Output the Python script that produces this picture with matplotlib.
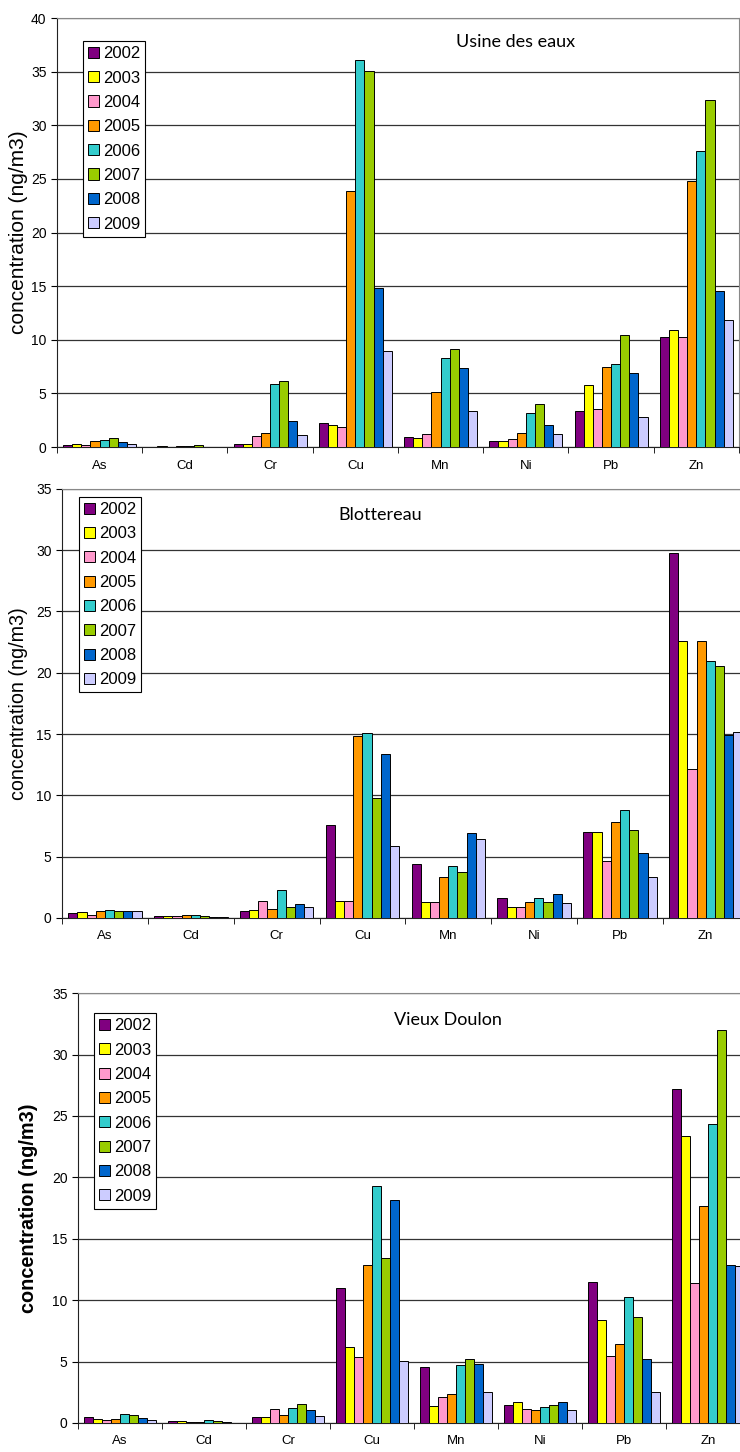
"""Concentrations of metals at three sites, 2002-2009."""
import matplotlib
matplotlib.use("Agg")
import matplotlib.pyplot as plt
import numpy as np

metals = ["As", "Cd", "Cr", "Cu", "Mn", "Ni", "Pb", "Zn"]
years = ["2002", "2003", "2004", "2005", "2006", "2007", "2008", "2009"]
colors = ["#800080", "#FFFF00", "#FF99CC", "#FF9900",
          "#33CCCC", "#99CC00", "#0066CC", "#CCCCFF"]

# one row per year, one column per metal
usine = [
    [0.20, 0.05, 0.25, 2.27, 0.97, 0.56, 3.36, 10.28],
    [0.30, 0.07, 0.25, 2.10, 0.87, 0.56, 5.83, 10.90],
    [0.15, 0.05, 1.00, 1.87, 1.18, 0.78, 3.58, 10.28],
    [0.55, 0.12, 1.35, 23.9, 5.14, 1.34, 7.48, 24.77],
    [0.70, 0.10, 5.85, 36.1, 8.35, 3.20, 7.79, 27.60],
    [0.85, 0.15, 6.20, 35.1, 9.13, 4.00, 10.44, 32.40],
    [0.50, 0.03, 2.40, 14.8, 7.38, 2.09, 6.95, 14.55],
    [0.30, 0.02, 1.10, 8.97, 3.33, 1.25, 2.83, 11.84],
]
blottereau = [
    [0.40, 0.20, 0.54, 7.59, 4.40, 1.60, 6.99, 29.78],
    [0.46, 0.14, 0.63, 1.41, 1.28, 0.90, 6.99, 22.57],
    [0.27, 0.14, 1.36, 1.41, 1.28, 0.90, 4.62, 12.16],
    [0.60, 0.24, 0.76, 14.85, 3.35, 1.33, 7.83, 22.63],
    [0.65, 0.24, 2.28, 15.07, 4.22, 1.63, 8.81, 20.97],
    [0.54, 0.19, 0.90, 9.76, 3.75, 1.33, 7.18, 20.56],
    [0.57, 0.05, 1.17, 13.35, 6.91, 1.93, 5.28, 14.93],
    [0.60, 0.05, 0.87, 5.87, 6.42, 1.22, 3.35, 15.18],
]
doulon = [
    [0.52, 0.16, 0.52, 10.98, 4.57, 1.49, 11.49, 27.20],
    [0.35, 0.16, 0.49, 6.17, 1.39, 1.68, 8.40, 23.40],
    [0.24, 0.08, 1.14, 5.38, 2.09, 1.14, 5.49, 11.36],
    [0.35, 0.10, 0.65, 12.90, 2.39, 1.03, 6.44, 17.69],
    [0.71, 0.27, 1.22, 19.29, 4.70, 1.30, 10.27, 24.38],
    [0.65, 0.14, 1.55, 13.40, 5.19, 1.49, 8.59, 32.01],
    [0.41, 0.05, 1.09, 18.13, 4.78, 1.71, 5.24, 12.90],
    [0.24, 0.03, 0.60, 5.08, 2.55, 1.06, 2.55, 12.80],
]

TITLE_FONT = ["Lato", "DejaVu Sans"]
ARIAL = ["Liberation Sans", "DejaVu Sans"]

fig = plt.figure(figsize=(7.4, 14.52), dpi=100)

panels = [
    # data, title, ymax, axes rect, legend anchor, title pos, ylabel x, ylabel size, bold
    (usine, "Usine des eaux", 40, [0.077, 0.6921, 0.9216, 0.2955],
     (0.038, 0.946), (0.673, 0.944), -0.0425, 15, False),
    (blottereau, "Blottereau", 35, [0.0838, 0.3678, 0.928, 0.2955],
     (0.025, 0.981), (0.464, 0.939), -0.0495, 14.2, False),
    (doulon, "Vieux Doulon", 35, [0.1054, 0.020, 0.908, 0.296],
     (0.024, 0.953), (0.551, 0.937), -0.0595, 14.3, True),
]

x = np.arange(len(metals))
bw = 0.107

for data, title, ymax, rect, leg_anchor, title_pos, ylab_x, ylab_size, bold in panels:
    ax = fig.add_axes(rect)
    for i, (yr, col) in enumerate(zip(years, colors)):
        offs = (i - 3.5) * bw
        ax.bar(x + offs, data[i], width=bw, color=col, edgecolor="black",
               linewidth=0.7, label=yr, zorder=3)

    ax.set_xlim(-0.5, len(metals) - 0.5)
    ax.set_ylim(0, ymax)
    ax.set_yticks(np.arange(0, ymax + 1, 5))
    ax.grid(axis="y", color="#333333", linewidth=0.9, zorder=0)

    ax.set_xticks(x)
    ax.set_xticklabels(metals, family=ARIAL, fontsize=9.5)
    ax.tick_params(axis="x", which="major", length=0, pad=9)
    ax.set_xticks(np.arange(-0.5, len(metals)), minor=True)
    ax.tick_params(axis="x", which="minor", length=4, direction="out")
    ax.tick_params(axis="y", length=4, labelsize=10)
    for lab in ax.get_yticklabels():
        lab.set_family(ARIAL)

    for side in ("top", "right"):
        ax.spines[side].set_color("#888888")
    ax.spines["left"].set_color("#222222")
    ax.spines["bottom"].set_color("#222222")

    ax.set_ylabel("concentration (ng/m3)", family=ARIAL, fontsize=ylab_size,
                  fontweight="bold" if bold else "normal")
    ax.yaxis.set_label_coords(ylab_x, 0.5)

    ax.text(title_pos[0], title_pos[1], title, transform=ax.transAxes,
            ha="center", va="center", fontsize=13, family=TITLE_FONT)

    leg = ax.legend(loc="upper left", bbox_to_anchor=leg_anchor,
                    borderaxespad=0, fancybox=False, framealpha=1,
                    edgecolor="black", prop={"family": ARIAL, "size": 12},
                    handlelength=0.65, handleheight=0.65, handletextpad=0.25,
                    labelspacing=0.56, borderpad=0.3)
    leg.get_frame().set_linewidth(0.8)
    leg.set_zorder(5)

fig.savefig("out.png", dpi=100)
